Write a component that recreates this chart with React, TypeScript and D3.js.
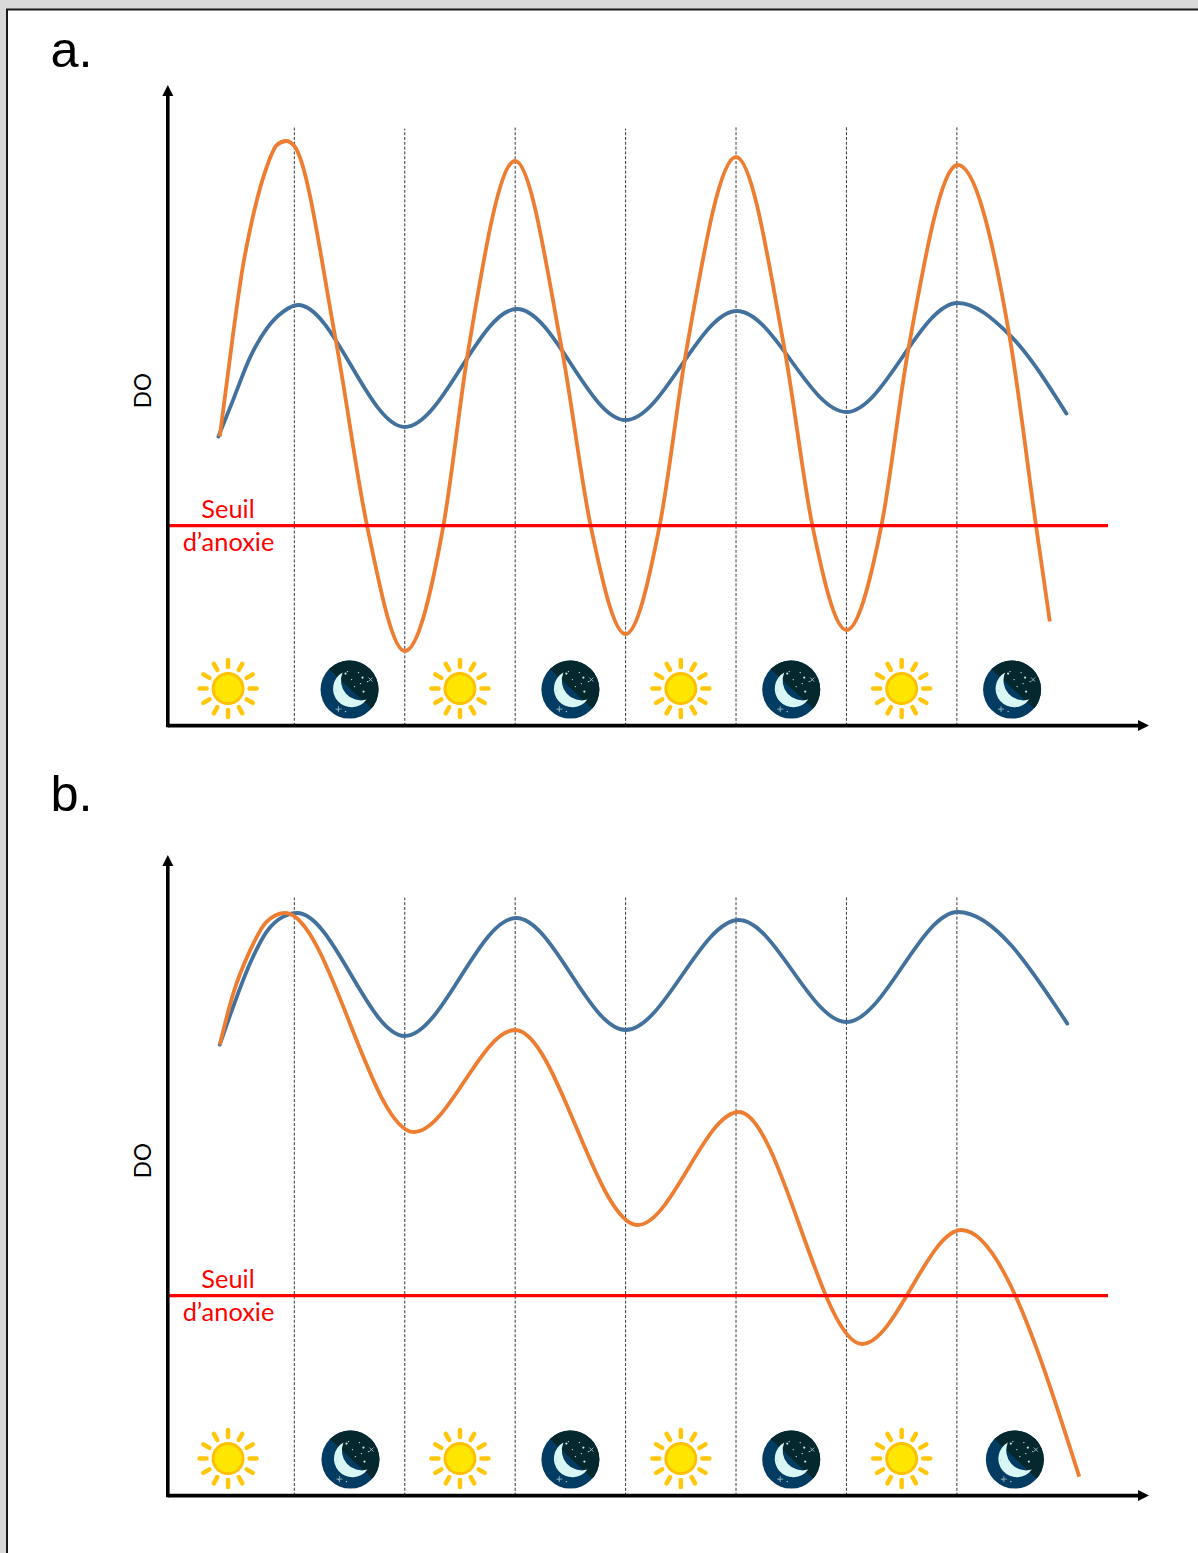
import React from "react";
import * as d3 from "d3";

type Pt = [number, number];

const W = 1198;
const H = 1553;

// Time in hours (dashed guides every 12 h); DO in arbitrary units above the x axis.
const guideHours = [12, 24, 36, 48, 60, 72, 84];
const guideTopsA = [598, 597, 598, 597, 600, 600, 600];
const guideTopsB = [598, 598, 600, 598, 600, 600, 600];
const sunHours = [4.8, 30, 54, 78];
const moonHoursA = [18, 42, 66, 90];
const moonHoursB = [18.1, 42, 66, 90.3];
const threshold = 200;

const aOrange: Pt[] = [[3.9, 289], [5.36, 392.6], [6.4, 458.6], [7.18, 495.6], [9, 558.6], [10.1, 580.6], [11.1, 584.6], [12, 579.6], [16.5, 385.6], [19.9, 200], [24, 74.6], [28.2, 200], [30.9, 375], [36, 564.6], [41.1, 375], [44.2, 200], [48, 91.6], [51.7, 200], [54.6, 375], [60, 568.6], [65.3, 375], [68.3, 200], [72, 95.6], [75.8, 200], [78.7, 375], [84.1, 560.6], [89.8, 385], [92.6, 200], [94.1, 104]];
const aBlue: Pt[] = [[3.75, 289], [5.36, 326], [7.18, 368], [9, 397], [10.8, 414], [12.4, 420.6], [24, 298.6], [36.2, 416.6], [48, 305.6], [60.1, 414.6], [72, 313.6], [84.1, 422.6], [89.8, 390], [95.9, 312]];
const bBlue: Pt[] = [[3.9, 451], [5.36, 489], [7.18, 532], [9, 564], [10.8, 579], [12.3, 582.6], [24, 459.6], [36.1, 577.6], [48, 465.6], [60.3, 575.6], [72, 473.6], [84.1, 583.6], [96, 472]];
const bOrange: Pt[] = [[3.9, 451], [5.36, 502], [7.18, 545], [9, 574], [11, 582.6], [25, 363.6], [36, 465.6], [49.3, 270.6], [60.3, 383.6], [73.7, 151.6], [84.5, 265.6], [97.3, 19]];

const panelLabels = ["a.", "b."];
const yLabel = "DO";
const thresholdLines = ["Seuil", "d\u2019anoxie"];

const x = d3.scaleLinear().domain([0, 96]).range([183.9, 1067.3]);
const yPanel = (baseline: number) => d3.scaleLinear().domain([0, 640]).range([baseline, baseline - 640]);

const RAYS = d3.range(12);

function Sun({ cx, cy }: { cx: number; cy: number }) {
  return (
    <g transform={`translate(${cx},${cy})`}>
      {RAYS.map((i) => {
        const a = (i * Math.PI) / 6;
        return (
          <line key={i} x1={Math.cos(a) * 21.5} y1={Math.sin(a) * 21.5} x2={Math.cos(a) * 28.5} y2={Math.sin(a) * 28.5}
            stroke="#ffc60a" strokeWidth={4.5} strokeLinecap="round" />
        );
      })}
      <circle r={15} fill="#ffe600" stroke="#ffc000" strokeWidth={3} />
    </g>
  );
}

const moonStars: Pt[] = [[-4, -16], [2, -10], [9, -17], [13, -12], [5, -3], [-2, -18], [14, 2], [18, -8], [11, -6], [-14, 1], [-12, 20], [-4, 22]];

function Moon({ cx, cy, id }: { cx: number; cy: number; id: string }) {
  return (
    <g transform={`translate(${cx},${cy})`}>
      <clipPath id={id}><circle r={29} /></clipPath>
      <circle r={29} fill="#033c63" />
      <g clipPath={`url(#${id})`}>
        <polygon points="-30,-29.3 32,28.4 32,-30" fill="#05282f" />
      </g>
      <path d="M-7,-17 A18.5,18.5 0 1 0 17,10 A20,20 0 0 1 -7,-17 Z" fill="#d8f6f4" />
      {moonStars.map(([sx, sy], i) => (
        <circle key={i} cx={sx} cy={sy} r={i % 3 === 0 ? 1.1 : 0.7} fill="#c9e4e6" />
      ))}
      <path d="M19,-12 l4,4 M23,-12 l-4,4" stroke="#9fc0c6" strokeWidth={0.9} />
      <path d="M-14,19.5 h6 M-11,16.5 v6" stroke="#7fa5b5" strokeWidth={1} />
    </g>
  );
}

function Panel({ baseline, label, labelY, orange, blue, moons, tops, idp }: {
  baseline: number; label: string; labelY: number; orange: Pt[]; blue: Pt[]; moons: number[]; tops: number[]; idp: string;
}) {
  const y = yPanel(baseline);
  const line = d3.line<Pt>().x((d) => x(d[0])).y((d) => y(d[1])).curve(d3.curveMonotoneX);
  const axisX = 167.8;
  const xEnd = 1149;
  const yTop = baseline - 640.5;
  const yT = y(threshold);
  return (
    <g>
      <text x={50.5} y={labelY} fontFamily="'Liberation Sans', Arial, sans-serif" fontSize={50.5} fill="#000">{label}</text>
      {guideHours.map((h, i) => (
        <line key={h} x1={x(h)} x2={x(h)} y1={baseline} y2={y(tops[i])}
          stroke="#222" strokeWidth={0.9} strokeDasharray="3 1.8" />
      ))}
      <path d={line(blue) ?? ""} fill="none" stroke="#41719c" strokeWidth={3.8} strokeLinecap="round" />
      <path d={line(orange) ?? ""} fill="none" stroke="#ed7d31" strokeWidth={3.8} />
      <line x1={axisX} x2={1108} y1={yT} y2={yT} stroke="#ff0000" strokeWidth={3.4} />
      <text x={228} y={yT - 7.5} textAnchor="middle" fontFamily="Lato, sans-serif" fontSize={25.4} fill="#ff0000">{thresholdLines[0]}</text>
      <text x={228.5} y={yT + 25.5} textAnchor="middle" fontFamily="Lato, sans-serif" fontSize={25.4} fill="#ff0000">{thresholdLines[1]}</text>
      <text transform={`translate(${150.5},${baseline - 335}) rotate(-90)`} textAnchor="middle" fontFamily="Lato, sans-serif" fontSize={22.5} fill="#000">{yLabel}</text>
      {sunHours.map((h) => <Sun key={h} cx={x(h)} cy={baseline - 37} />)}
      {moons.map((h, i) => <Moon key={h} id={`${idp}${i}`} cx={x(h)} cy={baseline - 36} />)}
      <line x1={axisX} x2={axisX} y1={baseline + 1.7} y2={yTop + 8} stroke="#000" strokeWidth={3.6} />
      <polygon points={`${axisX - 5.5},${yTop + 11} ${axisX + 5.5},${yTop + 11} ${axisX},${yTop}`} fill="#000" />
      <line x1={axisX} x2={xEnd - 8} y1={baseline} y2={baseline} stroke="#000" strokeWidth={3.6} />
      <polygon points={`${xEnd - 11},${baseline - 5.5} ${xEnd - 11},${baseline + 5.5} ${xEnd},${baseline}`} fill="#000" />
    </g>
  );
}

export default function App() {
  return (
    <svg width={W} height={H} viewBox={`0 0 ${W} ${H}`} style={{ position: "absolute", left: 0, top: 0, display: "block" }}>
      <rect x={0} y={0} width={W} height={H} fill="#d9d9d9" />
      <rect x={7} y={9.5} width={W} height={H} fill="#fff" stroke="#1a1a1a" strokeWidth={2} />
      <Panel baseline={725.6} label={panelLabels[0]} labelY={67} orange={aOrange} blue={aBlue} moons={moonHoursA} tops={guideTopsA} idp="ma" />
      <Panel baseline={1495.6} label={panelLabels[1]} labelY={811} orange={bOrange} blue={bBlue} moons={moonHoursB} tops={guideTopsB} idp="mb" />
    </svg>
  );
}
